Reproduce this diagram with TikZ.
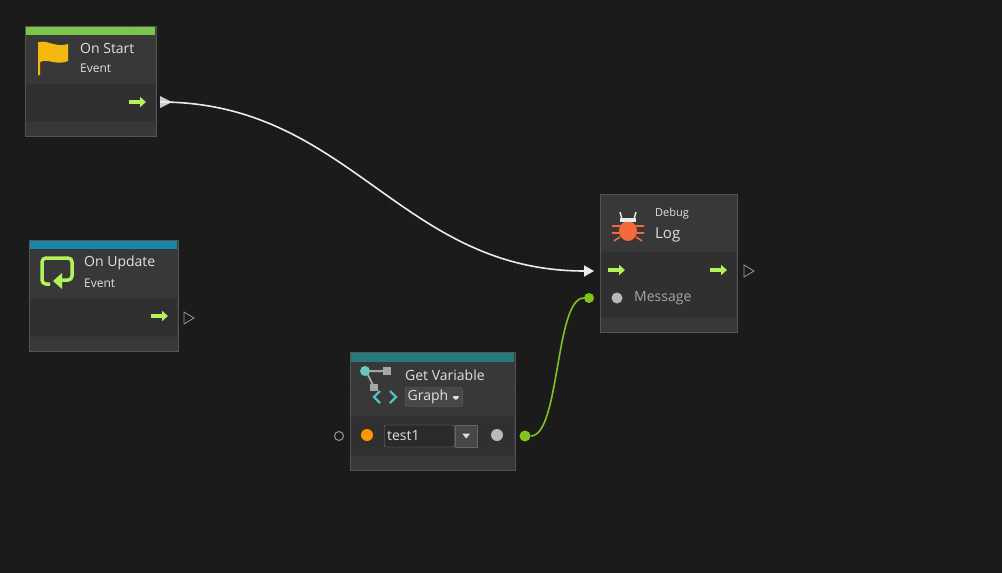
\documentclass[tikz,border=0pt]{standalone}
\usepackage{fontspec}
\setmainfont{Open Sans}
\usetikzlibrary{arrows.meta}
\definecolor{bg}{HTML}{1B1B1B}
\definecolor{nodebg}{HTML}{383838}
\definecolor{rowbg}{HTML}{303030}
\definecolor{edge}{HTML}{545454}
\definecolor{fgreen}{HTML}{B3F25A}
\definecolor{hgreen}{HTML}{7DC64E}
\definecolor{hteal}{HTML}{1A86A8}
\definecolor{hteal2}{HTML}{267A7A}
\definecolor{lgreen}{HTML}{7FC31C}
\definecolor{txt}{HTML}{E0E0E0}
\definecolor{btn}{HTML}{474747}
\definecolor{field}{HTML}{2A2A2A}
\definecolor{flag}{HTML}{F5B80F}
\definecolor{bug}{HTML}{F26A3A}
\tikzset{
  x=1pt,y=-1pt,
  panel/.style={fill=nodebg,draw=edge,line width=1pt},
  row/.style={fill=rowbg},
  divl/.style={draw=black!80,line width=0.8pt},
  ttl/.style={text=txt,font=\fontsize{14}{15}\selectfont,anchor=west,inner sep=0},
  sub/.style={text=txt,font=\fontsize{12}{13}\selectfont,anchor=west,inner sep=0},
  flow/.style={-{Triangle[length=6pt,width=10pt]},fgreen,line width=3.5pt},
  outport/.style={draw=gray!80,line width=0.8pt},
}
\newcommand{\flowarrow}[2]{\draw[flow] (#1-9,#2) -- (#1+8,#2);}
\begin{document}
\begin{tikzpicture}
\fill[bg] (0,0) rectangle (1002,573);
\useasboundingbox (0,0) rectangle (1002,573);
\foreach \gx in {128,256,384,512,640,768,896} \draw[black,line width=0.5pt,opacity=0.12] (\gx,0) -- (\gx,573);
\foreach \gy in {128,256,384,512} \draw[black,line width=0.5pt,opacity=0.12] (0,\gy) -- (1002,\gy);

% ---------- On Start
\node[panel,minimum width=131pt,minimum height=110pt,inner sep=0,anchor=north west] (start) at (25,26) {};
\fill[row] (26,84) rectangle (155,121);
\draw[divl] (26,84) -- (155,84);
\draw[divl] (26,121) -- (155,121);
\fill[hgreen] (26,27) rectangle (155,35);
\fill[flag] (38,42) -- (38,75) -- (40,75) -- (40,62) .. controls (48,58) and (56,66) .. (68,61) -- (68,44) .. controls (56,48) and (48,40) .. (40,42) -- cycle;
\node[ttl] (startt) at (80,48) {On Start};
\node[sub] (starts) at (80,68) {Event};
\flowarrow{138}{102}
\coordinate (startout) at (160,102);
\fill[gray!40] (160,96) -- (172,102) -- (160,108) -- cycle;

% ---------- On Update
\node[panel,minimum width=149pt,minimum height=111pt,inner sep=0,anchor=north west] (upd) at (29,240) {};
\fill[row] (30,298) rectangle (177,336);
\draw[divl] (30,298) -- (177,298);
\draw[divl] (30,336) -- (177,336);
\fill[hteal] (30,241) rectangle (177,249);
\draw[fgreen,line width=3.5pt,rounded corners=4pt] (50,284) -- (42,284) -- (42,258) -- (72,258) -- (72,280) -- (58,280);
\fill[fgreen] (62,273) -- (53,281) -- (62,289) -- cycle;
\node[ttl] (updt) at (84,263) {On Update};
\node[sub] (upds) at (84,283) {Event};
\flowarrow{160}{316}
\draw[outport] (184,312) -- (194,318) -- (184,324) -- cycle;

% ---------- Debug Log
\node[panel,minimum width=137pt,minimum height=138pt,inner sep=0,anchor=north west] (log) at (600,194) {};
\fill[row] (601,252) rectangle (736,317);
\draw[divl] (601,252) -- (736,252);
\draw[divl] (601,317) -- (736,317);
\fill[bug] (628,231) ellipse (9pt and 10pt);
\fill[white!85!gray] (620,218) rectangle (636,222);
\draw[white!85!gray,line width=1.4pt] (622,219) -- (620,212) (634,219) -- (636,212);
\draw[bug,line width=1.6pt] (612,226) -- (644,226) (612,233) -- (644,233) (614,241) -- (620,237) (642,241) -- (636,237);
\node[sub,font=\fontsize{11}{12}\selectfont] (logs) at (655,214) {Debug};
\node[ttl,font=\fontsize{15}{16}\selectfont] (logt) at (655,235) {Log};
\flowarrow{617}{270}
\flowarrow{719}{270}
\draw[outport] (744,265) -- (754,271) -- (744,277) -- cycle;
\fill[gray!55] (617,298) circle (5.5pt);
\node[ttl,text=gray!70!white] (msg) at (634,298) {Message};
\coordinate (login) at (594,271);
\node[circle,fill=lgreen,inner sep=0,minimum size=10pt] (msgin) at (589,298) {};

% ---------- Get Variable
\node[panel,minimum width=165pt,minimum height=118pt,inner sep=0,anchor=north west] (gv) at (350,352) {};
\fill[row] (351,416) rectangle (514,455);
\draw[divl] (351,416) -- (514,416);
\draw[divl] (351,455) -- (514,455);
\fill[hteal2] (351,353) rectangle (514,362);
\draw[gray!70,line width=2pt] (367,371) -- (386,371) (367,373) -- (374,387);
\fill[cyan!50!green!60] (365,371) circle (5pt);
\fill[gray!70] (383,367) rectangle (391,375);
\fill[gray!70] (370,384) rectangle (378,391);
\draw[cyan!60!green!70,line width=2.4pt] (380,391) -- (374,397) -- (380,403) (390,391) -- (396,397) -- (390,403);
\node[ttl] (gvt) at (405,375) {Get Variable};
\node[fill=btn,draw=black!60,rounded corners=2pt,text=txt,font=\fontsize{14}{15}\selectfont,inner sep=2.5pt,anchor=west] (graph) at (405,397) {Graph \tikz[x=1pt,y=-1pt]\fill[txt] (0,0) -- (8,0) -- (4,4.5) -- cycle;};
\draw[gray!80,line width=1pt] (339,436) circle (4.5pt);
\fill[orange!70!yellow!90!red] (367,435) circle (6pt);
\node[fill=field,draw=black!50,rounded corners=2pt,text=txt,font=\fontsize{14}{15}\selectfont,inner sep=0,minimum width=70pt,minimum height=22pt,anchor=west,text width=64pt] (var) at (384,436) {test1};
\node[fill=btn,draw=black!60,inner sep=0,minimum width=22pt,minimum height=22pt,anchor=west] (dd) at (455,436) {\tikz[x=1pt,y=-1pt]\fill[txt] (0,0) -- (8,0) -- (4,5) -- cycle;};
\fill[gray!55] (497,435) circle (6pt);
\node[circle,fill=lgreen,inner sep=0,minimum size=11pt] (gvout) at (525,436) {};

% ---------- connectors
\draw[white!85!gray,line width=1.6pt,-{Triangle[length=10pt,width=11pt]}] (startout) .. controls (350,102) and (400,271) .. (login);
\draw[lgreen,line width=1.6pt] (gvout) .. controls (560,436) and (555,298) .. (msgin);
\end{tikzpicture}
\end{document}
